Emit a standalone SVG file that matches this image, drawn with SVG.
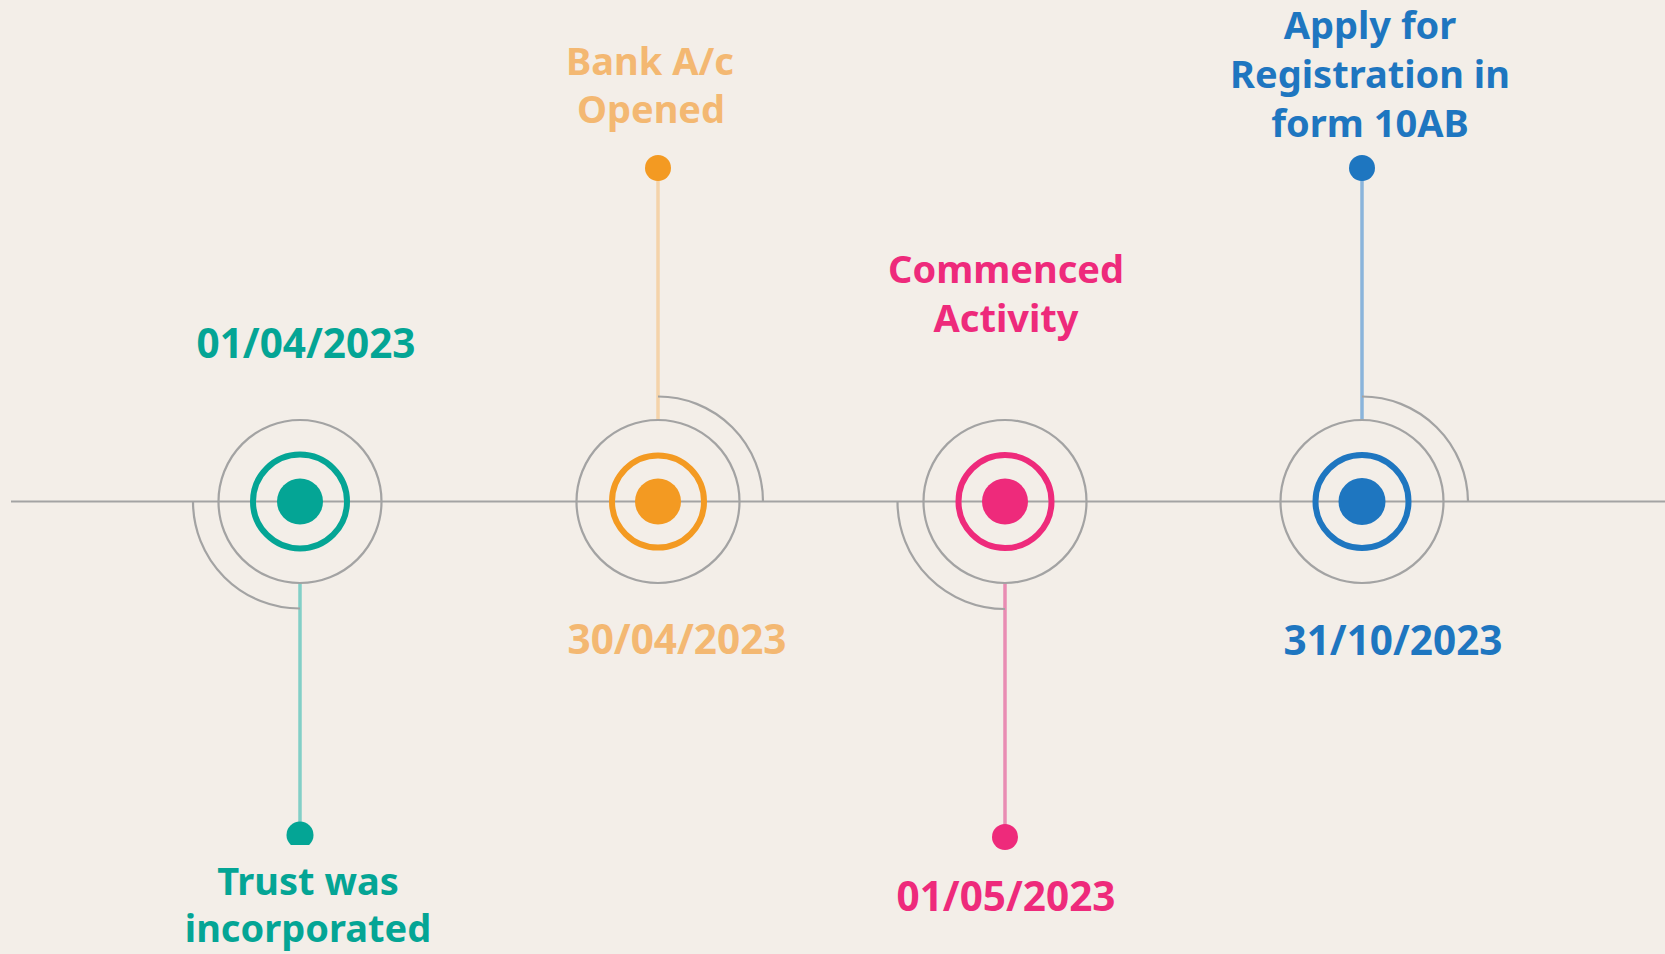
<svg xmlns="http://www.w3.org/2000/svg" width="1665" height="954" viewBox="0 0 1665 954">
<defs>
<style>
.lbl{font-family:"Noto Sans","Liberation Sans",sans-serif;font-weight:700;font-size:38px;text-anchor:middle}
.date{font-size:40.5px}
.gray{fill:none;stroke:#a3a3a3;stroke-width:2.2}
.ring{fill:none;stroke-width:6}
.teal{fill:#04a595}.tealS{stroke:#04a595}
.orng{fill:#f39a22}.orngS{stroke:#f39a22}
.pink{fill:#ee2a7b}.pinkS{stroke:#ee2a7b}
.blue{fill:#1e76c0}.blueS{stroke:#1e76c0}
</style>
<clipPath id="cutBottom"><rect x="0" y="0" width="1665" height="845"/></clipPath>
</defs>
<rect width="1665" height="954" fill="#f3eee8"/>
<g id="connectors">
<line x1="11" y1="501.5" x2="1665" y2="501.5" stroke="#a3a3a3" stroke-width="2.2"/>
<line x1="300" y1="583" x2="300" y2="830" stroke="#82cfc7" stroke-width="3.5"/>
<line x1="658" y1="421" x2="658" y2="170" stroke="#f4d3aa" stroke-width="3.5"/>
<line x1="1005" y1="583" x2="1005" y2="832" stroke="#e98cb3" stroke-width="3.5"/>
<line x1="1362" y1="421" x2="1362" y2="170" stroke="#8ab4db" stroke-width="3.5"/>
</g>
<g id="node1">
<circle class="gray" cx="300" cy="501.5" r="81.5"/>
<path class="gray" d="M193 501.5 A107 107 0 0 0 300 608.5"/>
<circle class="ring tealS" cx="300" cy="501.5" r="47"/>
<circle class="teal" cx="300" cy="501.5" r="23"/>
<circle class="teal" cx="300" cy="835" r="13.5" clip-path="url(#cutBottom)"/>
<text class="lbl date" x="306" y="358" fill="#04a595">01/04/2023</text>
<text class="lbl" x="308" y="895" fill="#04a595">Trust was</text>
<text class="lbl" x="308" y="942" fill="#04a595">incorporated</text>
</g>
<g id="node2">
<circle class="gray" cx="658" cy="501.5" r="81.5"/>
<path class="gray" d="M658 396.5 A105 105 0 0 1 763 501.5"/>
<circle class="ring orngS" cx="658" cy="501.5" r="46"/>
<circle class="orng" cx="658" cy="501.5" r="23"/>
<circle class="orng" cx="658" cy="168" r="13"/>
<text class="lbl" x="650" y="75" fill="#f3b872">Bank A/c</text>
<text class="lbl" x="651" y="123" fill="#f3b872">Opened</text>
<text class="lbl date" x="677" y="654" fill="#f3b872">30/04/2023</text>
</g>
<g id="node3">
<circle class="gray" cx="1005" cy="501.5" r="81.5"/>
<path class="gray" d="M897.5 501.5 A107.5 107.5 0 0 0 1005 609"/>
<circle class="ring pinkS" cx="1005" cy="501.5" r="46.5"/>
<circle class="pink" cx="1005" cy="501.5" r="23"/>
<circle class="pink" cx="1005" cy="837" r="13"/>
<text class="lbl" x="1006" y="283" fill="#ee2a7b">Commenced</text>
<text class="lbl" x="1006" y="332" fill="#ee2a7b">Activity</text>
<text class="lbl date" x="1006" y="911" fill="#ee2a7b">01/05/2023</text>
</g>
<g id="node4">
<circle class="gray" cx="1362" cy="501.5" r="81.5"/>
<path class="gray" d="M1362 396.5 A106 106 0 0 1 1468 501.5"/>
<circle class="ring blueS" cx="1362" cy="501.5" r="46.5"/>
<circle class="blue" cx="1362" cy="501.5" r="23.5"/>
<circle class="blue" cx="1362" cy="168" r="13"/>
<text class="lbl" x="1370" y="39" fill="#1e76c0">Apply for</text>
<text class="lbl" x="1370" y="88" fill="#1e76c0">Registration in</text>
<text class="lbl" x="1370" y="137" fill="#1e76c0">form 10AB</text>
<text class="lbl date" x="1393" y="655" fill="#1e76c0">31/10/2023</text>
</g>
</svg>
